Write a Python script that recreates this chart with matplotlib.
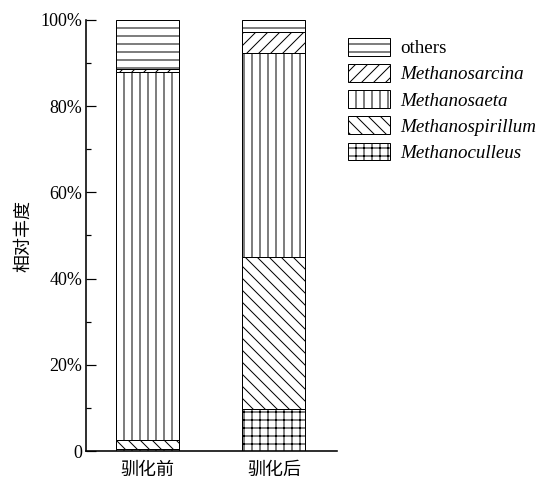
import matplotlib
matplotlib.use('Agg')
import matplotlib.pyplot as plt
import matplotlib.ticker as ticker
import numpy as np

plt.rcParams['hatch.linewidth'] = 0.5
plt.rcParams['font.family'] = ['Liberation Serif', 'Noto Sans CJK SC']

categories = ['驯化前', '驯化后']
series_names = ['Methanoculleus', 'Methanospirillum', 'Methanosaeta',
                'Methanosarcina', 'others']
methanoculleus = [0.5, 9.7]
methanospirillum = [2.1, 35.3]
methanosaeta = [85.4, 47.4]
methanosarcina = [0.6, 4.9]
others = [11.4, 2.7]
hatches = ['+++', '\\\\\\\\', '|||', '////', '---']

values = [methanoculleus, methanospirillum, methanosaeta, methanosarcina, others]

fig = plt.figure(figsize=(538/144, 480/144), dpi=144)
ax = fig.add_axes([86/538, 29/480, (337-86)/538, (451-20)/480])

x = np.arange(len(categories))
bottom = np.zeros(len(categories))
handles = []
for name, vals, h in zip(series_names, values, hatches):
    b = ax.bar(x, vals, 0.5, bottom=bottom, color='white', edgecolor='black',
               linewidth=0.5, hatch=h, label=name)
    handles.append(b)
    bottom += np.array(vals)

ax.set_xlim(-0.49, 1.5)
ax.set_ylim(0, 100)
ax.set_xticks(x)
ax.set_xticklabels(categories, family='Noto Sans CJK SC', fontsize=9)
ax.yaxis.set_major_locator(ticker.MultipleLocator(20))
ax.yaxis.set_minor_locator(ticker.MultipleLocator(10))
ax.yaxis.set_major_formatter(ticker.FuncFormatter(lambda v, p: '0' if v == 0 else '%d%%' % v))
ax.tick_params(axis='y', which='major', direction='in', length=5, width=0.6, labelsize=9, pad=2)
ax.tick_params(axis='y', which='minor', direction='in', length=2.5, width=0.6)
ax.tick_params(axis='x', length=0, pad=5)
for s in ['top', 'right']:
    ax.spines[s].set_visible(False)
for s in ['left', 'bottom']:
    ax.spines[s].set_linewidth(0.8)

ax.set_ylabel('相对丰度', family='Noto Sans CJK SC', fontsize=9, labelpad=4)

leg = fig.legend(handles[::-1], series_names[::-1], loc='upper left',
                 bbox_to_anchor=(348/538, 1-38/480), frameon=False,
                 fontsize=9.5, handlelength=2.2, handleheight=1.05,
                 labelspacing=0.36, handletextpad=0.55, borderpad=0,
                 borderaxespad=0)
for t in leg.get_texts():
    if t.get_text() != 'others':
        t.set_style('italic')

fig.savefig('out.png', dpi=144)
